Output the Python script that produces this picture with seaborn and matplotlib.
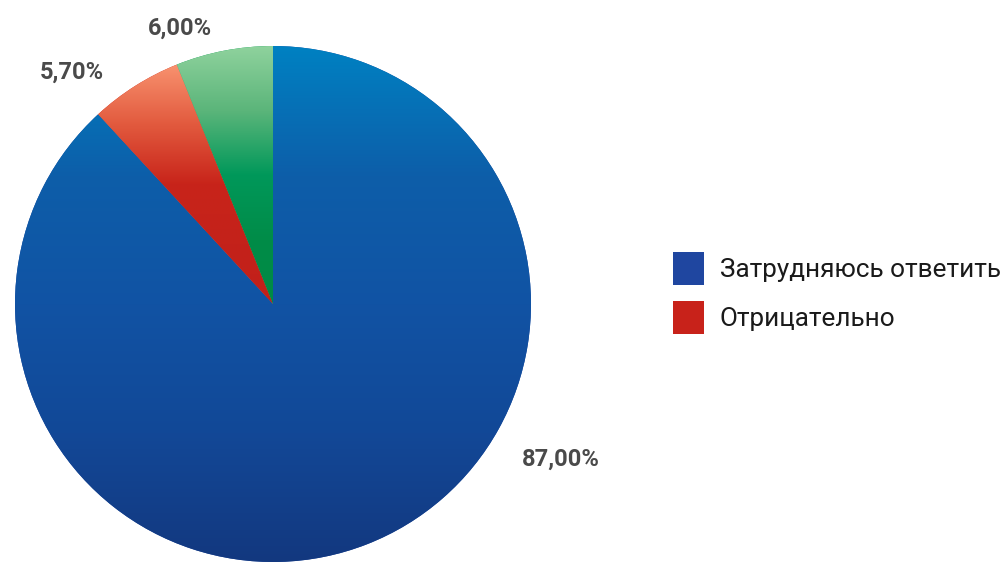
import numpy as np
import matplotlib
matplotlib.use("Agg")
import matplotlib.pyplot as plt
import seaborn as sns
from matplotlib.colors import LinearSegmentedColormap
from matplotlib.patches import Patch

sns.set_theme(style="white")
plt.rcParams['font.family'] = ['Roboto', 'DejaVu Sans']

# Data
categories = ["Затрудняюсь ответить", "Отрицательно", "Положительно"]
values = [87.0, 5.7, 6.0]
value_labels = ["87,00%", "5,70%", "6,00%"]
legend_categories = ["Затрудняюсь ответить", "Отрицательно"]

# Styles
base_colors = ["#1f4aa0", "#c8221a", "#00994f"]
gradients = [
    ["#0081c2", "#0d5ea9", "#1153a4", "#124897", "#13387f"],
    ["#f8926f", "#e25a3e", "#c8241a", "#c4221a", "#c2201a"],
    ["#8fd29d", "#5bb57a", "#00985a", "#008c48", "#008a45"],
]
label_offsets = [(1.117, -0.603), (-0.778, 0.899), (-0.362, 1.070)]

fig = plt.figure(figsize=(10.06, 5.62), dpi=100)
ax = fig.add_axes([0, 0, 1, 1])

R = 258.0
cx, cy = 273.0, 304.0
W, H = 1006.0, 562.0

wedges, _ = ax.pie(values, colors=base_colors, startangle=90, counterclock=False,
                   radius=1.0, wedgeprops=dict(linewidth=0))
ax.set_xlim(-cx / R, (W - cx) / R)
ax.set_ylim(-(H - cy) / R, cy / R)
ax.set_aspect("auto")

for w, stops in zip(wedges, gradients):
    path = w.get_path()
    verts = w.get_transform().transform(path.vertices)
    verts = ax.transData.inverted().transform(verts)
    x0, x1 = verts[:, 0].min(), verts[:, 0].max()
    y0, y1 = verts[:, 1].min(), verts[:, 1].max()
    cmap = LinearSegmentedColormap.from_list("g", stops)
    grad = np.linspace(0, 1, 256).reshape(-1, 1)
    im = ax.imshow(grad, cmap=cmap, extent=(x0, x1, y0, y1), origin="upper",
                   aspect="auto", interpolation="bilinear", zorder=2)
    im.set_clip_path(w)

for lbl, (lx, ly) in zip(value_labels, label_offsets):
    ax.text(lx, ly, lbl, ha="center", va="center", fontsize=17,
            fontweight="bold", color="#4a4a4a", zorder=5)

handles = [Patch(facecolor=c, edgecolor="none") for c in ["#1f46a0", "#c8221a"]]
leg = ax.legend(handles, legend_categories, loc="center left",
                bbox_to_anchor=(673 / W, 1 - 293 / H), frameon=False,
                fontsize=18.8, handlelength=1.19, handleheight=1.6,
                handletextpad=0.6, labelspacing=0.6, borderpad=0,
                borderaxespad=0)
for t in leg.get_texts():
    t.set_color("#1a1a1a")

ax.axis("off")
fig.savefig("out.png", dpi=100)
